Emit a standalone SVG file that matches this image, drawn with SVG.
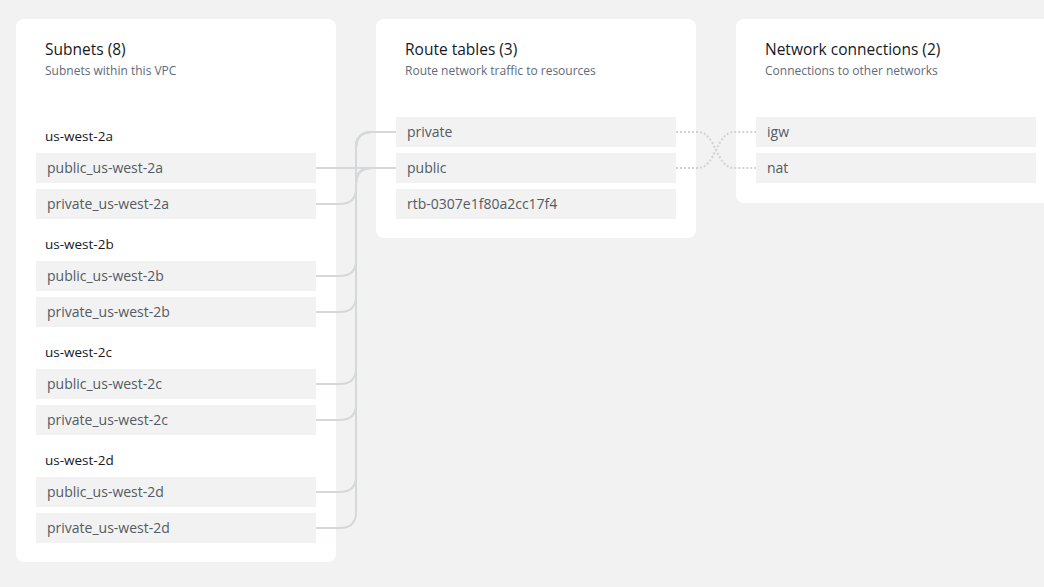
<svg xmlns="http://www.w3.org/2000/svg" width="1044" height="587" viewBox="0 0 1044 587">
<style>
.card{fill:#ffffff}
.item{fill:#f2f2f2}
.title{font-family:"Open Sans","Liberation Sans",sans-serif;font-size:15.5px;fill:#16191f}
.sub{font-family:"Open Sans","Liberation Sans",sans-serif;font-size:12px;fill:#5f6b7a}
.lbl{font-family:"Open Sans","Liberation Sans",sans-serif;font-size:14px;fill:#545b64}
.grp{font-family:"Open Sans","Liberation Sans",sans-serif;font-size:13.5px;fill:#16191f}
.conn{fill:none;stroke:#d5d9d9;stroke-width:2}
.dot{fill:none;stroke:#d0d3d3;stroke-width:2;stroke-dasharray:2 2}
</style>
<rect width="1044" height="587" fill="#f2f2f2"/>
<g id="card-subnets">
<rect class="card" x="16" y="19" width="320" height="543" rx="8"/>
<text class="title" x="45" y="55">Subnets (8)</text>
<text class="sub" x="45" y="75">Subnets within this VPC</text>
<text class="grp" x="45" y="141">us-west-2a</text>
<text class="grp" x="45" y="249">us-west-2b</text>
<text class="grp" x="45" y="357">us-west-2c</text>
<text class="grp" x="45" y="465">us-west-2d</text>
</g>
<g id="card-routes">
<rect class="card" x="376" y="19" width="320" height="219" rx="8"/>
<text class="title" x="405" y="55">Route tables (3)</text>
<text class="sub" x="405" y="75">Route network traffic to resources</text>
</g>
<g id="card-network">
<rect class="card" x="736" y="19" width="320" height="184" rx="8"/>
<text class="title" x="765" y="55">Network connections (2)</text>
<text class="sub" x="765" y="75">Connections to other networks</text>
</g>
<g id="connectors">
<path class="conn" d="M316,168 H396"/>
<path class="conn" d="M316,204 H340 Q356,204 356,188 V148 Q356,132 372,132 H396"/>
<path class="conn" d="M316,276 H340 Q356,276 356,260 V184 Q356,168 372,168 H396"/>
<path class="conn" d="M316,312 H340 Q356,312 356,296 V148 Q356,132 372,132 H396"/>
<path class="conn" d="M316,384 H340 Q356,384 356,368 V184 Q356,168 372,168 H396"/>
<path class="conn" d="M316,420 H340 Q356,420 356,404 V148 Q356,132 372,132 H396"/>
<path class="conn" d="M316,492 H340 Q356,492 356,476 V184 Q356,168 372,168 H396"/>
<path class="conn" d="M316,528 H340 Q356,528 356,512 V148 Q356,132 372,132 H396"/>
<path class="dot" d="M676,132 H698 C716,132 716,168 734,168 H756"/>
<path class="dot" d="M676,168 H698 C716,168 716,132 734,132 H756"/>
</g>
<g id="subnet-public-2a"><rect class="item" x="36" y="153" width="280" height="30"/><text class="lbl" x="47" y="173">public_us-west-2a</text></g>
<g id="subnet-private-2a"><rect class="item" x="36" y="189" width="280" height="30"/><text class="lbl" x="47" y="209">private_us-west-2a</text></g>
<g id="subnet-public-2b"><rect class="item" x="36" y="261" width="280" height="30"/><text class="lbl" x="47" y="281">public_us-west-2b</text></g>
<g id="subnet-private-2b"><rect class="item" x="36" y="297" width="280" height="30"/><text class="lbl" x="47" y="317">private_us-west-2b</text></g>
<g id="subnet-public-2c"><rect class="item" x="36" y="369" width="280" height="30"/><text class="lbl" x="47" y="389">public_us-west-2c</text></g>
<g id="subnet-private-2c"><rect class="item" x="36" y="405" width="280" height="30"/><text class="lbl" x="47" y="425">private_us-west-2c</text></g>
<g id="subnet-public-2d"><rect class="item" x="36" y="477" width="280" height="30"/><text class="lbl" x="47" y="497">public_us-west-2d</text></g>
<g id="subnet-private-2d"><rect class="item" x="36" y="513" width="280" height="30"/><text class="lbl" x="47" y="533">private_us-west-2d</text></g>
<g id="rt-private"><rect class="item" x="396" y="117" width="280" height="30"/><text class="lbl" x="407" y="137">private</text></g>
<g id="rt-public"><rect class="item" x="396" y="153" width="280" height="30"/><text class="lbl" x="407" y="173">public</text></g>
<g id="rt-main"><rect class="item" x="396" y="189" width="280" height="30"/><text class="lbl" x="407" y="209">rtb-0307e1f80a2cc17f4</text></g>
<g id="nc-igw"><rect class="item" x="756" y="117" width="280" height="30"/><text class="lbl" x="767" y="137">igw</text></g>
<g id="nc-nat"><rect class="item" x="756" y="153" width="280" height="30"/><text class="lbl" x="767" y="173">nat</text></g>
</svg>
